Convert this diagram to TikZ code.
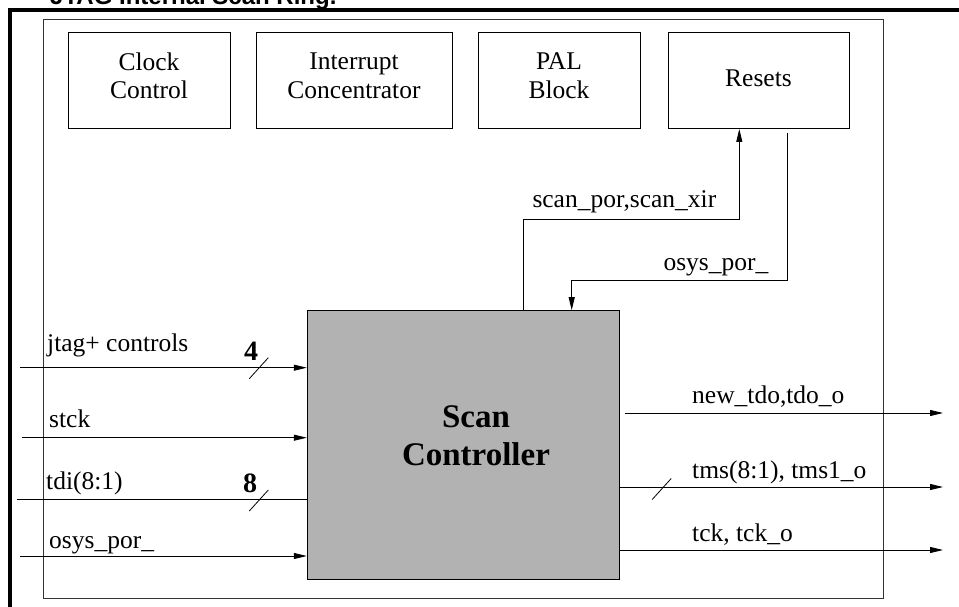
\documentclass[tikz,border=0pt]{standalone}
\usepackage{fontspec}
\setmainfont{Liberation Serif}
\newfontfamily\capfont{Liberation Sans}
\usetikzlibrary{arrows.meta}
\newcommand{\lblfont}{\fontsize{25.5}{28.5}\selectfont}
\newcommand{\numfont}{\bfseries\fontsize{28}{30}\selectfont}

\begin{document}
\begin{tikzpicture}[x=1pt,y=1pt,
  blk/.style={draw,line width=1pt,minimum height=95.5pt,align=center,font=\lblfont,text depth=10pt},
  wire/.style={line width=0.8pt},
  sig/.style={wire,-{Triangle[length=13pt,width=6pt]}},
  lbl/.style={anchor=base west,inner sep=0pt,font=\lblfont},
  num/.style={anchor=base west,inner sep=0pt,font=\numfont}]
\useasboundingbox (0,0) rectangle (959,-607);
% caption (cut at the top)
\node[anchor=base west,inner sep=0pt,font=\capfont\bfseries\fontsize{24}{26}\selectfont] (cap) at (50,-5) {JTAG Internal Scan Ring.};
% frames
\draw[line width=3.3pt] (10,-620) -- (10,-10) -- (975,-10);
\draw[line width=1pt,black!80] (43,-20) rectangle (883,-598);
% top row of blocks
\node[blk,minimum width=162pt] (clk) at (149,-80.75) {Clock\\Control};
\node[blk,minimum width=196pt] (irq) at (354,-80.75) {Interrupt\\Concentrator};
\node[blk,minimum width=162pt] (pal) at (559,-80.75) {PAL\\Block};
\node[blk,minimum width=181pt,text depth=5pt] (res) at (758.5,-80.75) {Resets};
% scan controller
\node[draw,line width=1pt,fill=black!30,minimum width=312pt,minimum height=268.3pt] (sc) at (463.3,-444.85) {};
\node[inner sep=0pt,align=center,font=\bfseries\fontsize{33}{38}\selectfont] (sclbl) at (476,-435.5) {Scan\\Controller};
% to and from the resets
\draw[sig] ([xshift=60pt]sc.north) |- ([xshift=-19.2pt,yshift=-90.2pt]res.south) -- ([xshift=-19.2pt]res.south);
\node[lbl] (spl) at (532.3,-207.3) {scan\_por,scan\_xir};
\draw[sig] ([xshift=29.2pt,yshift=-4.5pt]res.south) |- ([xshift=108.4pt,yshift=29.7pt]sc.north) -- ([xshift=108.4pt]sc.north);
\node[lbl] (opl) at (663.3,-270) {osys\_por\_};
% inputs
\coordinate (jin) at (20,-367.7);
\coordinate (sin) at (21.7,-437.7);
\coordinate (tin) at (16.7,-499);
\coordinate (oin) at (20,-556);
\draw[sig] (jin) -- (jin -| sc.west);
\draw[sig] (sin) -- (sin -| sc.west);
\draw[wire] (tin) -- (tin -| sc.west);
\draw[sig] (oin) -- (oin -| sc.west);
\draw[wire] (258.8,-368.2) +(-9.5,-10.5) -- +(9.5,10.5);
\draw[wire] (258.8,-500.5) +(-9.5,-10.5) -- +(9.5,10.5);
\node[lbl] (jl) at (47,-351) {jtag+ controls};
\node[num] (jn) at (244,-360.7) {4};
\node[lbl] (sl) at (49,-427.7) {stck};
\node[lbl] (tl) at (46,-489.3) {tdi(8:1)};
\node[num] (tn) at (243,-492.7) {8};
\node[lbl] (ol) at (49,-548.3) {osys\_por\_};
% outputs
\coordinate (tdo) at (943,-413);
\coordinate (tms) at (943,-487);
\coordinate (tck) at (943,-550);
\draw[sig] ([xshift=5pt]sc.east |- tdo) -- (tdo);
\draw[sig] (sc.east |- tms) -- (tms);
\draw[sig] (sc.east |- tck) -- (tck);
\draw[wire] (661.7,-489) +(-9.5,-10.5) -- +(9.5,10.5);
\node[lbl] (tdol) at (692,-403) {new\_tdo,tdo\_o};
\node[lbl] (tmsl) at (692,-478) {tms(8:1), tms1\_o};
\node[lbl] (tckl) at (692,-541.7) {tck, tck\_o};
\end{tikzpicture}
\end{document}
